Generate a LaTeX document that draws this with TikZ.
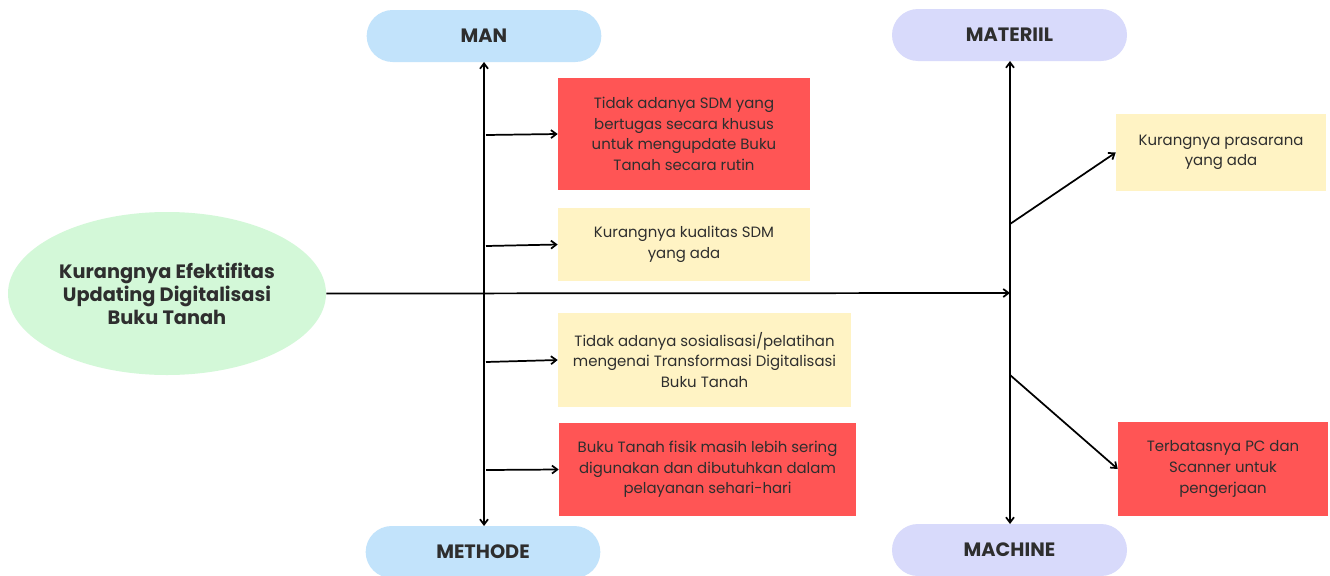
\documentclass[tikz,border=0pt]{standalone}
\usepackage{fontspec}
\setmainfont{Poppins}
\usetikzlibrary{arrows.meta,shapes.geometric}
\definecolor{pillblue}{HTML}{C2E3FB}
\definecolor{pilllav}{HTML}{D8DAFB}
\definecolor{ellgreen}{HTML}{D3F8D8}
\definecolor{boxred}{HTML}{FF5555}
\definecolor{boxyel}{HTML}{FFF3C4}
\definecolor{txt}{HTML}{2E2E2E}
\tikzset{
  pill/.style={rounded corners=19.5pt, minimum width=176pt, minimum height=39pt, inner sep=0pt, font=\fontsize{14.5}{16}\selectfont, text=txt},
  cause/.style={minimum height=#1, inner sep=0pt, align=center, font=\fontsize{11.2}{15.4}\selectfont, text=txt},
  redbox/.style={fill=boxred},
  yelbox/.style={fill=boxyel},
  conn/.style={line width=1.3pt, -{Straight Barb[length=4pt,width=6pt]}},
  bothconn/.style={line width=1.3pt, {Straight Barb[length=4pt,width=6pt]}-{Straight Barb[length=4pt,width=6pt]}}
}
\begin{document}
\begin{tikzpicture}[x=0.75pt,y=-0.75pt]
\useasboundingbox (0,0) rectangle (1330,575);
\fill[white] (0,0) rectangle (1330,575);
% pills
\node[pill, fill=pillblue] (man) at (484,36) {\textbf{MAN}};
\node[pill, fill=pillblue] (methode) at (483,552) {\textbf{METHODE}};
\node[pill, fill=pilllav, minimum width=176.25pt] (materiil) at (1009.5,35) {\textbf{MATERIIL}};
\node[pill, fill=pilllav, minimum width=176.25pt] (machine) at (1009.5,550) {\textbf{MACHINE}};
% effect ellipse
\node[ellipse, fill=ellgreen, minimum width=238.5pt, minimum height=122.25pt, inner sep=0pt, align=center, font=\fontsize{14.5}{17.3}\selectfont, text=txt] (eff) at (167,293.5) {\textbf{Kurangnya Efektifitas}\\\textbf{Updating Digitalisasi}\\\textbf{Buku Tanah}};
% cause boxes
\node[cause=84pt, redbox, minimum width=189pt] (c1) at (684,134) {Tidak adanya SDM yang\\bertugas secara khusus\\untuk mengupdate Buku\\Tanah secara rutin};
\node[cause=54.75pt, yelbox, minimum width=189pt] (c2) at (684,244.5) {Kurangnya kualitas SDM\\yang ada};
\node[cause=70.5pt, yelbox, minimum width=219.75pt] (c3) at (704.5,360) {Tidak adanya sosialisasi/pelatihan\\mengenai Transformasi Digitalisasi\\Buku Tanah};
\node[cause=69.75pt, redbox, minimum width=222.75pt] (c4) at (707.5,469.5) {Buku Tanah fisik masih lebih sering\\digunakan dan dibutuhkan dalam\\pelayanan sehari-hari};
\node[cause=57.75pt, yelbox, minimum width=157.5pt] (c5) at (1221,152.5) {Kurangnya prasarana\\yang ada};
\node[cause=70.5pt, redbox, minimum width=157.5pt] (c6) at (1223,469) {Terbatasnya PC dan\\Scanner untuk\\pengerjaan};
% spine coordinates
\coordinate (lt) at (484,62);
\coordinate (lb) at (484,526);
\coordinate (rt) at (1010,61);
\coordinate (rb) at (1010,524);
\coordinate (spine) at (1010,293);
\coordinate (b1) at (486,135);
\coordinate (b2) at (486,246);
\coordinate (b3) at (486,362);
\coordinate (b4) at (486,470);
\coordinate (b5) at (1010,224);
\coordinate (b6) at (1010,375);
% connectors
\draw[bothconn] (lt) -- (lb);
\draw[bothconn] (rt) -- (rb);
\draw[conn] (eff.east) -- (spine);
\draw[conn] (b1) -- (c1.west);
\draw[conn] (b2) -- (c2.west);
\draw[conn] (b3) -- (c3.west);
\draw[conn] (b4) -- (c4.west);
\draw[conn] (b5) -- (c5.west);
\draw[conn] (b6) -- (c6.west);
\end{tikzpicture}
\end{document}
